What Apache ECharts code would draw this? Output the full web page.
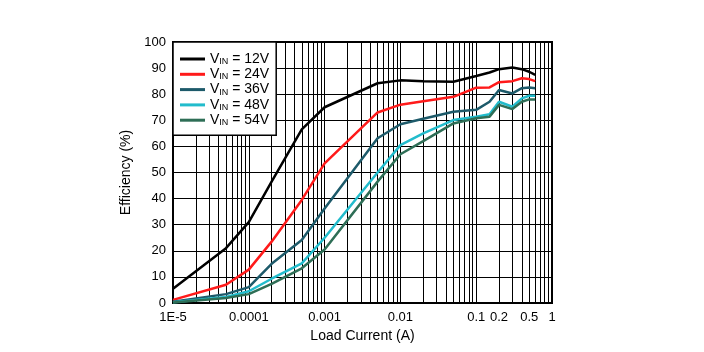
<!DOCTYPE html>
<html>
<head>
<meta charset="utf-8">
<script src="https://cdn.jsdelivr.net/npm/echarts@6/dist/echarts.min.js"></script>
<style>html,body{margin:0;padding:0;background:#fff}#c{width:704px;height:352px}</style>
</head>
<body>
<div id="c"></div>
<script>
// Load current (A)
const current = [1e-5, 5e-5, 1e-4, 2e-4, 5e-4, 1e-3, 5e-3, 0.01, 0.02, 0.05, 0.1, 0.15, 0.2, 0.3, 0.4, 0.5, 0.6];
// Efficiency (%)
const eff12 = [5.5, 21, 31, 46.5, 66.5, 75, 84.2, 85.3, 85, 84.8, 87, 88.3, 89.6, 90.2, 89.6, 88.6, 87.4];
const eff24 = [1.2, 7, 12.8, 23.5, 39.5, 53.5, 73, 76, 77.3, 79, 82.5, 82.6, 84.6, 85, 86.1, 85.8, 85];
const eff36 = [0.5, 3.4, 6.1, 15, 24.1, 36.2, 63.1, 68.5, 70.6, 73.3, 74, 77.1, 81.6, 80.3, 82.3, 82.6, 82.3];
const eff48 = [0.3, 2.3, 4.5, 9.3, 15.2, 25, 50, 60.5, 65, 70.1, 71.4, 72.3, 77.1, 75.2, 78.4, 79.4, 79.4];
const eff54 = [0.2, 1.9, 3.4, 7.3, 13.3, 20.5, 46.5, 57, 62, 68.8, 70.8, 71.4, 75.9, 74.3, 77.1, 78, 78];
const seriesNames = ['12V', '24V', '36V', '48V', '54V'];
const seriesColors = ['#000000', '#ff1a1a', '#1d5a6a', '#22bccc', '#2e6e56'];
// Axis ticks
const xTickValues = [1e-5, 1e-4, 1e-3, 0.01, 0.1, 0.2, 0.5, 1];
const xTickLabels = ['1E-5', '0.0001', '0.001', '0.01', '0.1', '0.2', '0.5', '1'];
const decades = [1e-5, 1e-4, 1e-3, 1e-2, 1e-1];
const mults = [1, 2, 3, 4, 5, 6, 7, 8, 9];

const gridValues = [];
decades.forEach(d => mults.forEach(m => gridValues.push(parseFloat((d * m).toPrecision(6)))));
gridValues.push(1);

const allEff = [eff12, eff24, eff36, eff48, eff54];

const chart = echarts.init(document.getElementById('c'), null, {renderer: 'canvas'});
const font = 'Liberation Sans, Arial, sans-serif';
chart.setOption({
  animation: false,
  backgroundColor: '#fff',
  grid: {left: 173, top: 42, right: 152, bottom: 49, show: true, borderColor: '#000', borderWidth: 2, backgroundColor: 'transparent'},
  legend: {
    orient: 'vertical', left: 173, top: 42,
    data: seriesNames.map(n => 'V_IN = ' + n),
    icon: 'rect',
    backgroundColor: '#fff', borderColor: '#000', borderWidth: 1.5,
    padding: [10, 7, 8, 7], itemWidth: 25, itemHeight: 3, itemGap: 1.3,
    formatter: name => '{v|V}{s|IN}{v|' + name.replace('V_IN', '') + '}',
    textStyle: {
      fontFamily: font, color: '#000',
      rich: {
        v: {fontSize: 14, lineHeight: 14, fontFamily: font, color: '#000'},
        s: {fontSize: 9, lineHeight: 8, verticalAlign: 'bottom', fontFamily: font, color: '#000'}
      }
    }
  },
  xAxis: {
    type: 'log', logBase: 10, min: 1e-5, max: 1,
    name: 'Load Current (A)', nameLocation: 'middle', nameGap: 24,
    nameTextStyle: {fontSize: 14, fontFamily: font, color: '#000'},
    axisLine: {show: false},
    axisTick: {show: false, customValues: gridValues},
    axisLabel: {
      customValues: xTickValues, fontSize: 13, fontFamily: font, color: '#000', margin: 8,
      formatter: v => { for (let i = 0; i < xTickValues.length; i++) { if (Math.abs(Math.log10(v) - Math.log10(xTickValues[i])) < 1e-6) return xTickLabels[i]; } return ''; }
    },
    splitLine: {show: true, lineStyle: {color: '#000', width: 1}}
  },
  yAxis: {
    type: 'value', min: 0, max: 100, interval: 10,
    name: 'Efficiency (%)', nameLocation: 'middle', nameGap: 36, nameRotate: 90,
    nameTextStyle: {fontSize: 14, fontFamily: font, color: '#000'},
    axisLine: {show: false}, axisTick: {show: false},
    axisLabel: {fontSize: 13, fontFamily: font, color: '#000', margin: 7},
    splitLine: {show: true, lineStyle: {color: '#000', width: 1}}
  },
  series: seriesNames.map((n, i) => ({
    name: 'V_IN = ' + n, type: 'line', symbol: 'none', showSymbol: false,
    lineStyle: {color: seriesColors[i], width: 2.5}, itemStyle: {color: seriesColors[i]},
    data: current.map((c, j) => [c, allEff[i][j]])
  }))
});
</script>
</body>
</html>
